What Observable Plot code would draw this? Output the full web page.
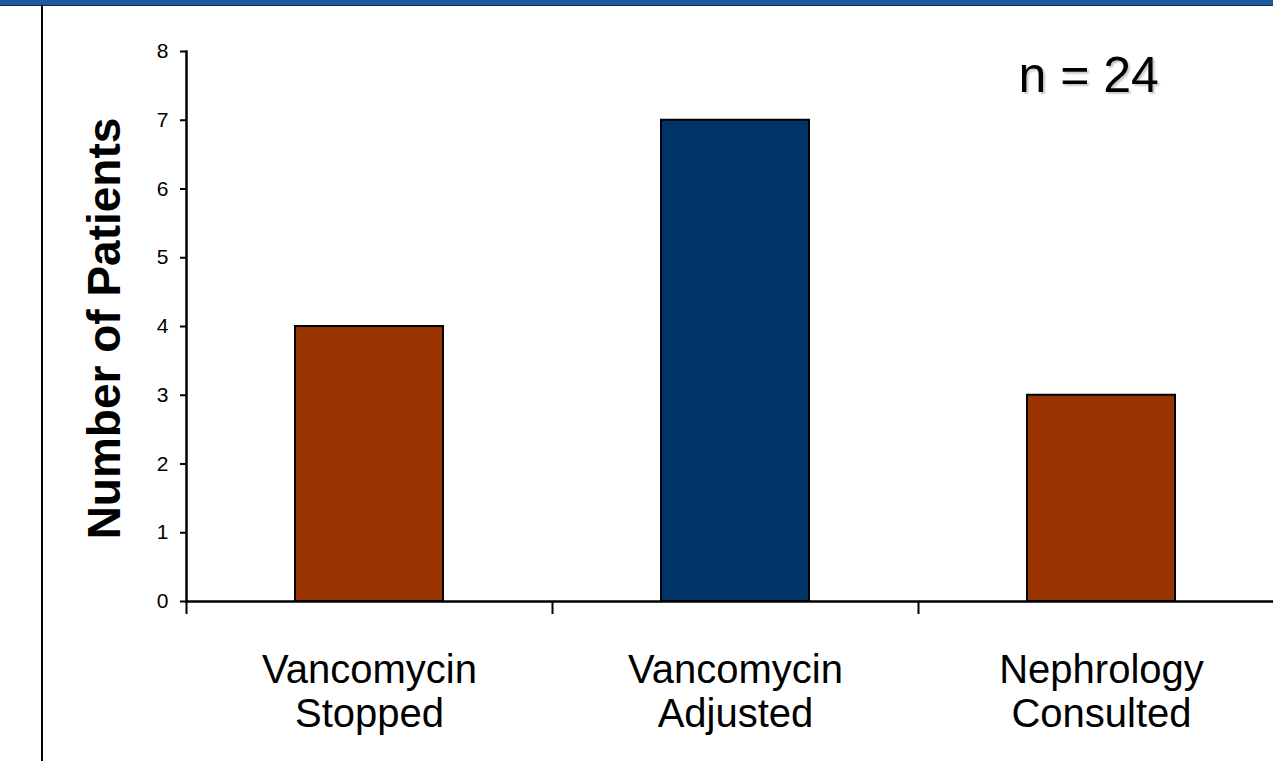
<!DOCTYPE html>
<html>
<head>
<meta charset="utf-8">
<script src="https://cdn.jsdelivr.net/npm/d3@7"></script>
<script src="https://cdn.jsdelivr.net/npm/@observablehq/plot@0.6"></script>
<style>
  html, body { margin: 0; padding: 0; background: #fff; }
  #wrap { position: relative; width: 1273px; height: 761px; overflow: hidden; font-family: Arial, "Liberation Sans", sans-serif; }
  #band { position: absolute; left: 0; top: 0; width: 1273px; height: 5px; background: #1d5a9f; border-bottom: 1px solid #0d2a4a; }
  #leftline { position: absolute; left: 41px; top: 5px; width: 2px; bottom: 0; background: #000; }
  #chart { position: absolute; left: 0; top: 0; }
  .nlabel text { text-shadow: 2px 2px 2px #c8c8c8; }
  g[aria-label="y-axis tick label"], g[aria-label="y-axis tick label"] text { font-size: 21px; }
  g[aria-label="x-axis tick label"], g[aria-label="x-axis tick label"] text { font-size: 40px; }
</style>
</head>
<body>
<div id="wrap">
  <div id="chart"></div>
  <div id="band"></div>
  <div id="leftline"></div>
</div>
<script>
const categories = ["Vancomycin\nStopped", "Vancomycin\nAdjusted", "Nephrology\nConsulted"];
const patients = [4, 7, 3];
const yTicks = [0, 1, 2, 3, 4, 5, 6, 7, 8];
const yTitle = "Number of Patients";
const nLabel = "n = 24";

const barColors = ["#993300", "#003366", "#993300"];
const font = 'Arial, "Liberation Sans", sans-serif';

const data = categories.map((c, i) => ({category: c, value: patients[i]}));

const W = 1273, H = 761;
const mLeft = 186, mRight = -11, mTop = 51, mBottom = 160;
const step = (W - mRight - mLeft) / categories.length;

const chart = Plot.plot({
  width: W,
  height: H,
  marginLeft: mLeft,
  marginRight: mRight,
  marginTop: mTop,
  marginBottom: mBottom,
  style: {fontFamily: font, background: "transparent", color: "#000", overflow: "visible"},
  x: {domain: categories, paddingInner: 0.596, paddingOuter: 0.298, label: null},
  y: {domain: [0, 8], label: null},
  color: {domain: categories, range: barColors},
  marks: [
    Plot.barY(data, {x: "category", y: "value", fill: "category", stroke: "#000", strokeWidth: 2}),
    Plot.ruleY([0], {stroke: "#000", strokeWidth: 2.5}),
    Plot.frame({anchor: "left", stroke: "#000", strokeWidth: 2.5}),
    Plot.ruleX(categories, {x: d => d, y1: 0, y2: 0, insetBottom: -13, dx: -step / 2, stroke: "#000", strokeWidth: 2}),
    Plot.axisY({ticks: yTicks, tickSize: 6, tickPadding: 12, fontSize: 21, label: null, tickFormat: d => String(d), stroke: "#000", strokeWidth: 2}),
    Plot.axisX({tickSize: 0, tickPadding: 50, fontSize: 40, lineHeight: 1.1, label: null, lineAnchor: "top"}),
    Plot.text([yTitle], {text: d => d, frameAnchor: "left", textAnchor: "middle", dx: -81, dy: 2, rotate: -90, fontSize: 46, fontWeight: "bold", fill: "#000"}),
    Plot.text([nLabel], {text: d => d, frameAnchor: "top-left", textAnchor: "start", lineAnchor: "top", dx: 832, dy: 4.5, fontSize: 50, fill: "#000", className: "nlabel"})
  ]
});
document.getElementById("chart").appendChild(chart);
</script>
</body>
</html>
